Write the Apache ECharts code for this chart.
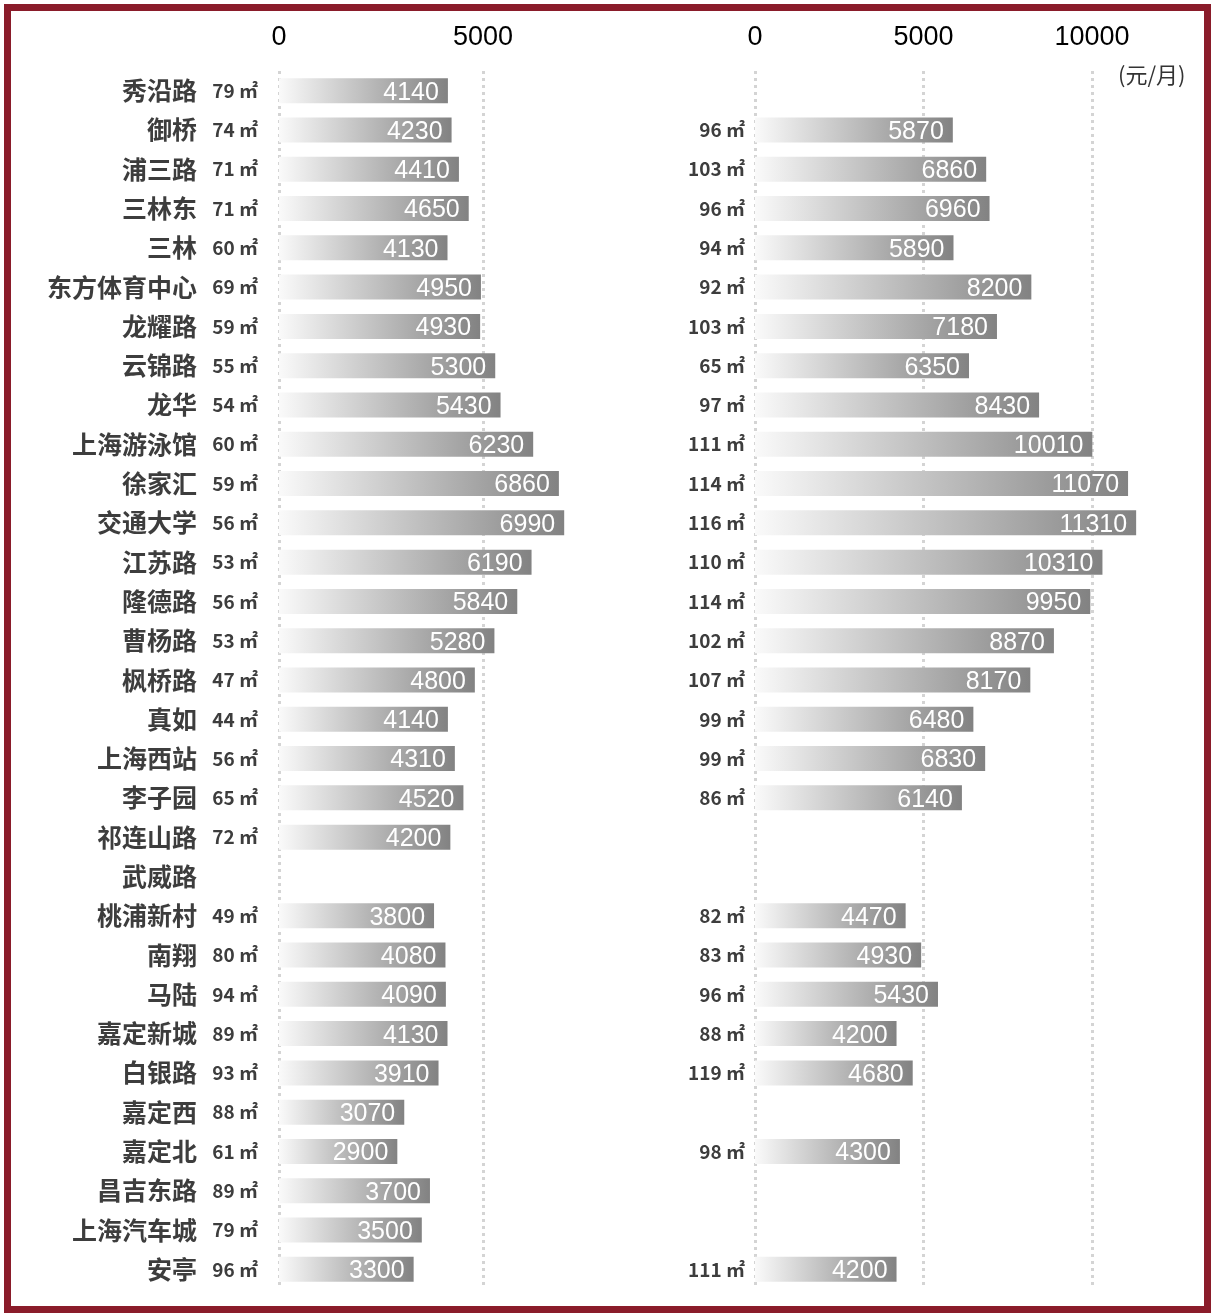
<!DOCTYPE html>
<html>
<head>
<meta charset="utf-8">
<script src="https://cdn.jsdelivr.net/npm/echarts@6/dist/echarts.min.js"></script>
<style>
  html, body { margin: 0; padding: 0; background: #fff; }
  #main { width: 1211px; height: 1313px; }
</style>
</head>
<body>
<div id="main"></div>
<script>
// 地铁站点
const stations = ['秀沿路', '御桥', '浦三路', '三林东', '三林', '东方体育中心', '龙耀路', '云锦路', '龙华', '上海游泳馆',
  '徐家汇', '交通大学', '江苏路', '隆德路', '曹杨路', '枫桥路', '真如', '上海西站', '李子园', '祁连山路',
  '武威路', '桃浦新村', '南翔', '马陆', '嘉定新城', '白银路', '嘉定西', '嘉定北', '昌吉东路', '上海汽车城', '安亭'];

// 左侧：面积 / 租金
const areaLeft = [79, 74, 71, 71, 60, 69, 59, 55, 54, 60, 59, 56, 53, 56, 53, 47, 44, 56, 65, 72,
  null, 49, 80, 94, 89, 93, 88, 61, 89, 79, 96];
const rentLeft = [4140, 4230, 4410, 4650, 4130, 4950, 4930, 5300, 5430, 6230, 6860, 6990, 6190, 5840, 5280, 4800, 4140, 4310, 4520, 4200,
  null, 3800, 4080, 4090, 4130, 3910, 3070, 2900, 3700, 3500, 3300];

// 右侧：面积 / 租金
const areaRight = [null, 96, 103, 96, 94, 92, 103, 65, 97, 111, 114, 116, 110, 114, 102, 107, 99, 99, 86, null,
  null, 82, 83, 96, 88, 119, null, 98, null, null, 111];
const rentRight = [null, 5870, 6860, 6960, 5890, 8200, 7180, 6350, 8430, 10010, 11070, 11310, 10310, 9950, 8870, 8170, 6480, 6830, 6140, null,
  null, 4470, 4930, 5430, 4200, 4680, null, 4300, null, null, 4200];

const gridLines = [0, 5000, 10000];

var myChart = echarts.init(document.getElementById('main'));

const barColor = {
  type: 'linear', x: 0, y: 0, x2: 1, y2: 0,
  colorStops: [
    { offset: 0, color: '#fafafa' },
    { offset: 1, color: '#828282' },
  ],
};

const valueLabel = {
  show: true,
  position: 'insideRight',
  distance: 9,
  offset: [0, 2],
  color: '#fff',
  fontSize: 25,
  fontFamily: 'Liberation Sans, Arial, sans-serif',
};

const xAxisBase = (grid, max) => ({
  type: 'value',
  gridIndex: grid,
  position: 'top',
  min: 0,
  max: max,
  interval: 5000,
  axisLine: { show: false },
  axisTick: { show: false },
  splitLine: { show: false },
  axisLabel: {
    margin: 20,
    fontSize: 27,
    color: '#000',
    fontFamily: 'Liberation Sans, Arial, sans-serif',
    formatter: (v) => (v % 5000 === 0 ? v : ''),
  },
});

const markLines = (max) => ({
  silent: true,
  symbol: ['none', 'none'],
  z: 0,
  label: { show: false },
  lineStyle: { type: [3, 4], width: 3, color: '#d4d4d4' },
  data: gridLines.filter((v) => v <= max).map((v) => ({ xAxis: v })),
});

var option = {
  animation: false,
  grid: [
    { left: 279, top: 71, width: 285.6, height: 1218 },
    { left: 755, top: 71, width: 404.4, height: 1218 },
  ],
  xAxis: [xAxisBase(0, 7000), xAxisBase(1, 12000)],
  yAxis: [
    {
      type: 'category',
      gridIndex: 0,
      inverse: true,
      data: stations,
      axisLine: { show: false },
      axisTick: { show: false },
      axisLabel: {
        margin: 21,
        formatter: (v, i) => {
          const a = areaLeft[i];
          return '{n|' + v + '}' + (a != null ? '{a|' + a + ' ㎡}' : '{a|}');
        },
        rich: {
          n: { fontSize: 25, fontWeight: 'bold', color: '#3d3d3d', fontFamily: 'Noto Sans CJK SC' },
          a: { fontSize: 19, fontWeight: 'bold', color: '#3d3d3d', fontFamily: 'Noto Sans CJK SC', padding: [0, 0, 0, 16], width: 45, align: 'right' },
        },
      },
    },
    {
      type: 'category',
      gridIndex: 1,
      inverse: true,
      data: stations,
      axisLine: { show: false },
      axisTick: { show: false },
      axisLabel: {
        margin: 10,
        formatter: (v, i) => {
          const a = areaRight[i];
          return a != null ? '{a|' + a + ' ㎡}' : '';
        },
        rich: {
          a: { fontSize: 19, fontWeight: 'bold', color: '#3d3d3d', fontFamily: 'Noto Sans CJK SC' },
        },
      },
    },
  ],
  graphic: [
    {
      type: 'rect',
      shape: { x: 7.5, y: 7.5, width: 1200, height: 1302 },
      style: { fill: 'none', stroke: '#8a1c2a', lineWidth: 7 },
      silent: true,
    },
    {
      type: 'text',
      left: 1118,
      top: 64,
      style: { text: '(元/月)', fontSize: 22, fill: '#333', fontFamily: 'Noto Sans CJK SC' },
      silent: true,
    },
  ],
  series: [
    {
      name: '左',
      type: 'bar',
      xAxisIndex: 0,
      yAxisIndex: 0,
      barWidth: 25,
      z: 2,
      itemStyle: { color: barColor },
      label: valueLabel,
      data: rentLeft,
      markLine: markLines(7000),
    },
    {
      name: '右',
      type: 'bar',
      xAxisIndex: 1,
      yAxisIndex: 1,
      barWidth: 25,
      z: 2,
      itemStyle: { color: barColor },
      label: valueLabel,
      data: rentRight,
      markLine: markLines(12000),
    },
  ],
};

myChart.setOption(option);
</script>
</body>
</html>
